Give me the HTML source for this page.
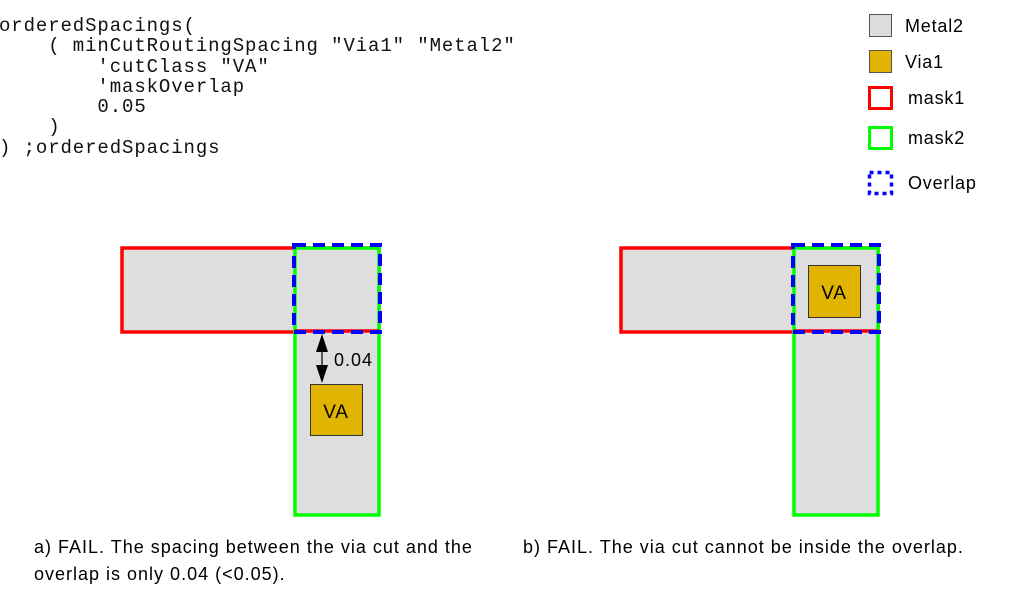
<!DOCTYPE html>
<html><head><style>
body{margin:0;width:1013px;height:609px;background:#fff;position:relative;overflow:hidden;font-family:"Liberation Sans",sans-serif;}
pre{position:absolute;left:-1px;top:16px;margin:0;font-family:"Liberation Mono",monospace;font-size:19px;letter-spacing:0.9px;line-height:20.3px;color:#111;}
.t{position:absolute;font-size:18px;letter-spacing:1px;color:#000;white-space:nowrap;}
</style></head><body>
<pre>orderedSpacings(
    ( minCutRoutingSpacing "Via1" "Metal2"
        'cutClass "VA"
        'maskOverlap
        0.05
    )
) ;orderedSpacings</pre>
<svg width="1013" height="609" style="position:absolute;left:0;top:0">
<!-- legend -->
<rect x="869.5" y="14.5" width="22" height="22" fill="#dcdcdc" stroke="#555" stroke-width="1"/>
<rect x="869.5" y="50.5" width="22" height="22" fill="#e0b400" stroke="#555" stroke-width="1"/>
<rect x="869.5" y="87.5" width="22" height="21" fill="#fff" stroke="#f00" stroke-width="3"/>
<rect x="869.5" y="127.5" width="22" height="21" fill="#fff" stroke="#0f0" stroke-width="3"/>
<rect x="869.5" y="172.5" width="22" height="21" fill="none" stroke="#00f" stroke-width="3.5" stroke-dasharray="4,4"/>
<g font-family="Liberation Sans,sans-serif" font-size="18" letter-spacing="0.8" fill="#000">
<text x="905" y="32">Metal2</text>
<text x="905" y="68">Via1</text>
<text x="908" y="104">mask1</text>
<text x="908" y="144">mask2</text>
<text x="908" y="189">Overlap</text>
</g>
<!-- diagram a -->
<g>
<rect x="122" y="248" width="257" height="84" fill="#dedede" stroke="#f00" stroke-width="3.5"/>
<rect x="295" y="248" width="84" height="267" fill="#dedede" stroke="#0f0" stroke-width="3.5"/>
<line x1="295" y1="331" x2="379" y2="331" stroke="#f00" stroke-width="3.5"/>
<rect x="294" y="245" width="86" height="87" fill="none" stroke="#00f" stroke-width="4" stroke-dasharray="12,7"/>
<rect x="310.5" y="384.5" width="52" height="51" fill="#e0b400" stroke="#333" stroke-width="1"/>
<text x="336" y="418" font-size="19" letter-spacing="0.8" text-anchor="middle" font-family="Liberation Sans,sans-serif">VA</text>
<line x1="322" y1="345" x2="322" y2="372" stroke="#555" stroke-width="2"/>
<path d="M316,352 L328,352 L322,334 Z" fill="#000"/>
<path d="M316,365 L328,365 L322,383 Z" fill="#000"/>
<text x="334" y="366" font-size="18" letter-spacing="1" font-family="Liberation Sans,sans-serif">0.04</text>
</g>
<!-- diagram b -->
<g>
<rect x="621" y="248" width="257" height="84" fill="#dedede" stroke="#f00" stroke-width="3.5"/>
<rect x="794" y="248" width="84" height="267" fill="#dedede" stroke="#0f0" stroke-width="3.5"/>
<line x1="794" y1="331" x2="878" y2="331" stroke="#f00" stroke-width="3.5"/>
<rect x="793" y="245" width="86" height="87" fill="none" stroke="#00f" stroke-width="4" stroke-dasharray="12,7"/>
<rect x="808.5" y="265.5" width="52" height="52" fill="#e0b400" stroke="#333" stroke-width="1"/>
<text x="834" y="299" font-size="19" letter-spacing="0.8" text-anchor="middle" font-family="Liberation Sans,sans-serif">VA</text>
</g>
</svg>
<div class="t" style="left:34px;top:537px;">a) FAIL. The spacing between the via cut and the</div>
<div class="t" style="left:34px;top:564px;">overlap is only 0.04 (&lt;0.05).</div>
<div class="t" style="left:523px;top:537px;">b) FAIL. The via cut cannot be inside the overlap.</div>
</body></html>
